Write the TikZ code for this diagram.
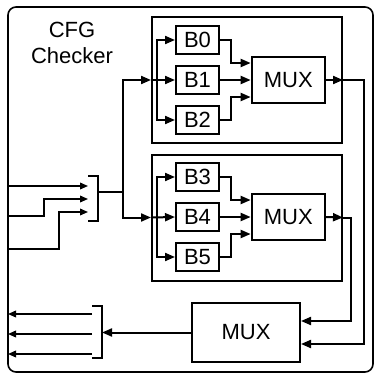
\documentclass[tikz,border=0pt]{standalone}
\usepackage{fontspec}
\setmainfont{Liberation Sans}
\usetikzlibrary{positioning,calc,arrows.meta}

\begin{document}
\begin{tikzpicture}[
  x=0.75pt, y=-0.75pt,
  font=\fontsize{16.5}{20}\selectfont,
  blk/.style={draw, line width=1.5pt, minimum width=32.25pt, minimum height=21pt, inner sep=0pt},
  mux/.style={draw, line width=1.5pt, minimum width=55pt, minimum height=34.5pt, inner sep=0pt},
  grp/.style={draw, line width=1.5pt, minimum width=142.5pt, minimum height=94.5pt},
  brk/.style={inner sep=0pt, outer sep=0pt, minimum width=7.5pt},
  bus/.style={-{Triangle[length=7.5pt,width=6pt]}, line width=1.5pt},
  sig/.style={-{Triangle[length=6pt,width=5pt]}, line width=1.1pt},
]
\useasboundingbox (0,0) rectangle (376,375);
\node[draw, line width=1.2pt, rounded corners=6pt, minimum width=273.75pt, minimum height=273.75pt, outer sep=0pt] (chk) at (190.5,189.5) {};
\node[align=center] (cfg) at (72,43) {CFG\\Checker};

% first group
\node[grp] (g1) at (247,80) {};
\node[blk] (b1) at (197.5,80) {B1};
\node[blk, above=7.5pt of b1] (b0) {B0};
\node[blk, below=7.5pt of b1] (b2) {B2};
\node[mux, right=23pt of b1] (mux1) {MUX};

% second group
\node[grp] (g2) at (247,217.5) {};
\node[blk] (b4) at (197.5,217) {B4};
\node[blk, above=7.5pt of b4] (b3) {B3};
\node[blk, below=7.5pt of b4] (b5) {B5};
\node[mux, right=23pt of b4] (mux2) {MUX};

\node[mux, minimum width=81pt, minimum height=44pt] (mux3) at (246,332.5) {MUX};

% brackets
\node[brk, minimum height=33.75pt] (ib) at (93,198.5) {};
\node[brk, minimum height=39pt] (ob) at (97,332) {};
\draw[line width=1.6pt] (ib.north west) -- (ib.north east) -- (ib.south east) -- (ib.south west);
\draw[line width=1.6pt] (ob.north west) -- (ob.north east) -- (ob.south east) -- (ob.south west);

% pins on the checker border
\coordinate (in1) at (8,186);
\coordinate (in2) at (8,216);
\coordinate (in3) at (8,249);
\coordinate (out1) at (8,314);
\coordinate (out2) at (8,334);
\coordinate (out3) at (8,354);
\coordinate (sp) at (123,192);

\draw[sig] (in1) -- (ib.west |- in1);
\draw[sig] (in2) -- ++(36,0) |- ($(ib.west)+(0,0.5)$);
\draw[sig] (in3) -- ++(51,0) |- ($(ib.west)+(0,13.5)$);
\draw[line width=1.5pt] (ib.east |- sp) -- (sp);
\draw[bus] (sp) |- (g1.west);
\draw[bus] (sp) |- (g2.west);

% fan out into the blocks
\coordinate (d1) at ($(g1.west)+(6,0)$);
\coordinate (d2) at ($(g2.west)+(6,0)$);
\draw[bus] (g1.west) -- (b1.west);
\draw[bus] (d1) |- (b0.west);
\draw[bus] (d1) |- (b2.west);
\draw[bus] (g2.west) -- (b4.west);
\draw[bus] (d2) |- (b3.west);
\draw[bus] (d2) |- (b5.west);

\draw[bus] (b0.east) -- ++(11,0) |- ($(mux1.west)+(0,-17)$);
\draw[bus] (b1.east) -- (mux1.west);
\draw[bus] (b2.east) -- ++(11,0) |- ($(mux1.west)+(0,17)$);
\draw[bus] (b3.east) -- ++(11,0) |- ($(mux2.west)+(0,-17)$);
\draw[bus] (b4.east) -- (mux2.west);
\draw[bus] (b5.east) -- ++(11,0) |- ($(mux2.west)+(0,17)$);

\draw[bus] (mux1.east) -- (g1.east);
\draw[bus] (mux2.east) -- (g2.east);
\draw[bus] (g1.east) -- ++(21,0) |- ($(mux3.east)+(0,11.5)$);
\draw[bus] (g2.east) -- ++(8,0) |- ($(mux3.east)+(0,-11.5)$);

\draw[bus] (mux3.west) -- (ob.east |- mux3.west);
\draw[sig] (ob.west |- out1) -- (out1);
\draw[sig] (ob.west |- out2) -- (out2);
\draw[sig] (ob.west |- out3) -- (out3);
\end{tikzpicture}
\end{document}
